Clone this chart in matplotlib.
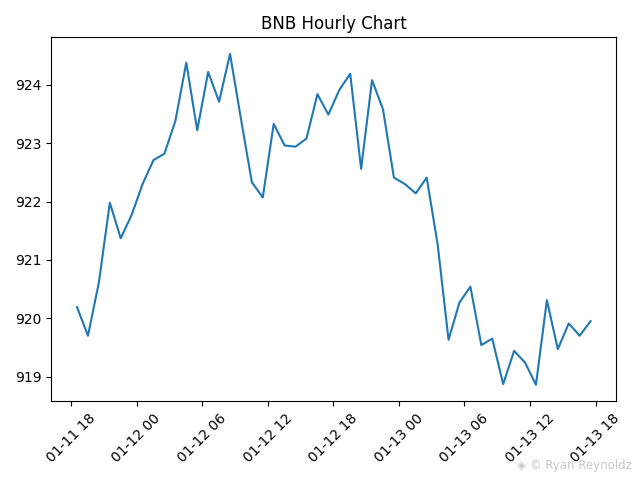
import matplotlib
matplotlib.use("Agg")
import matplotlib.pyplot as plt
import matplotlib.dates as mdates
import pandas as pd

start_time = "2025-01-11 18:33"
prices = [
    920.19, 919.70, 920.61, 921.98, 921.37, 921.77, 922.30, 922.71, 922.82, 923.38,
    924.38, 923.22, 924.22, 923.71, 924.53, 923.42, 922.33, 922.07, 923.33, 922.96,
    922.94, 923.08, 923.84, 923.49, 923.91, 924.19, 922.56, 924.08, 923.58, 922.41,
    922.30, 922.14, 922.41, 921.27, 919.63, 920.27, 920.54, 919.54, 919.65, 918.87,
    919.44, 919.24, 918.86, 920.31, 919.47, 919.91, 919.70, 919.95,
]
times = pd.date_range(start=start_time, periods=len(prices), freq="h")

fig, ax = plt.subplots(figsize=(6.4, 4.8), dpi=100)
ax.plot(times, prices, color="#1f77b4")
ax.set_title("BNB Hourly Chart")
ax.xaxis.set_major_locator(mdates.HourLocator(byhour=[0, 6, 12, 18]))
ax.xaxis.set_major_formatter(mdates.DateFormatter("%m-%d %H"))
plt.setp(ax.get_xticklabels(), rotation=45)
fig.tight_layout()
fig.text(0.988, 0.017, "◈ © Ryan Reynoldz", ha="right", va="bottom",
         color="#c8c8c8", fontsize=8.5)
fig.savefig("out.png")
